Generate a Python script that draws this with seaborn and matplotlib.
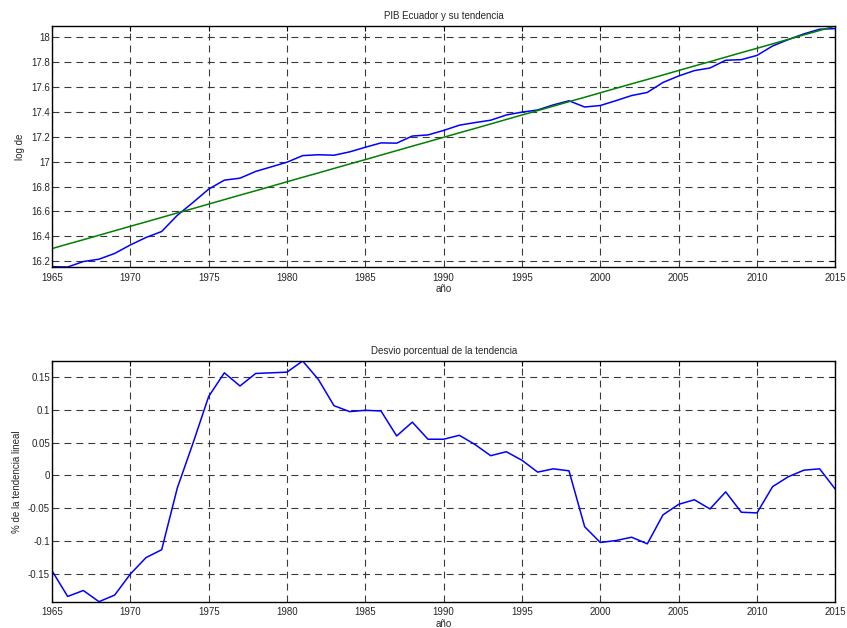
import matplotlib
matplotlib.use("Agg")
import matplotlib.pyplot as plt
from matplotlib.ticker import FuncFormatter
import seaborn as sns
import pandas as pd

# Años de la serie
anios = list(range(1965, 2016))

# Logaritmo del PIB de Ecuador
log_pib = [
    16.157, 16.154, 16.198, 16.217, 16.263, 16.331, 16.391, 16.439, 16.569, 16.672,
    16.779, 16.851, 16.867, 16.921, 16.958, 16.995, 17.048, 17.055, 17.051, 17.078,
    17.115, 17.150, 17.148, 17.205, 17.214, 17.250, 17.292, 17.313, 17.332, 17.374,
    17.397, 17.414, 17.455, 17.488, 17.438, 17.450, 17.489, 17.530, 17.555, 17.635,
    17.687, 17.730, 17.751, 17.813, 17.818, 17.852, 17.928, 17.979, 18.025, 18.062,
    18.067,
]

# Tendencia lineal del log del PIB
tendencia = [
    16.302, 16.338, 16.373, 16.409, 16.445, 16.481, 16.516, 16.552, 16.588, 16.623,
    16.659, 16.695, 16.731, 16.766, 16.802, 16.838, 16.874, 16.909, 16.945, 16.981,
    17.016, 17.052, 17.088, 17.124, 17.159, 17.195, 17.231, 17.266, 17.302, 17.338,
    17.374, 17.409, 17.445, 17.481, 17.516, 17.552, 17.588, 17.624, 17.659, 17.695,
    17.731, 17.767, 17.802, 17.838, 17.874, 17.909, 17.945, 17.981, 18.017, 18.052,
    18.088,
]

# Desvío respecto de la tendencia
desvio = [
    -0.145, -0.184, -0.175, -0.192, -0.182, -0.150, -0.125, -0.113, -0.019, 0.049,
    0.120, 0.156, 0.136, 0.155, 0.156, 0.157, 0.174, 0.146, 0.106, 0.097,
    0.099, 0.098, 0.060, 0.081, 0.055, 0.055, 0.061, 0.047, 0.030, 0.036,
    0.023, 0.005, 0.010, 0.007, -0.078, -0.102, -0.099, -0.094, -0.104, -0.060,
    -0.044, -0.037, -0.051, -0.025, -0.056, -0.057, -0.017, -0.002, 0.008, 0.010,
    -0.021,
]

xticks = list(range(1965, 2016, 5))
yticks_top = [16.2, 16.4, 16.6, 16.8, 17.0, 17.2, 17.4, 17.6, 17.8, 18.0]
yticks_bot = [-0.15, -0.1, -0.05, 0.0, 0.05, 0.1, 0.15]

df = pd.DataFrame({"anio": anios, "log_pib": log_pib,
                   "tendencia": tendencia, "desvio": desvio})

sns.set_style("white")
plt.rcParams["font.family"] = ["Liberation Sans", "DejaVu Sans"]
plt.rcParams["axes.unicode_minus"] = False
plt.rcParams["lines.scale_dashes"] = False

fig = plt.figure(figsize=(8.47, 6.28), dpi=100)
ax1 = fig.add_axes([0.0614, 0.5748, 0.9248, 0.3838])
ax2 = fig.add_axes([0.0614, 0.0419, 0.9248, 0.3833])

fmt = FuncFormatter(lambda v, p: f"{v:g}")

def estilo(ax, yticks, ylim, titulo, ylabel):
    ax.set_xlim(1965, 2015)
    ax.set_ylim(*ylim)
    ax.set_xticks(xticks)
    ax.set_yticks(yticks)
    ax.yaxis.set_major_formatter(fmt)
    ax.grid(True, color="#3a3a3a", linewidth=0.8, linestyle=(0, (5.0, 3.6)))
    ax.set_axisbelow(True)
    ax.tick_params(direction="in", length=3.6, width=0.8, labelsize=7,
                   top=True, right=True, color="black")
    ax.tick_params(axis="y", pad=1.5)
    ax.tick_params(axis="x", pad=4)
    for s in ax.spines.values():
        s.set_visible(True)
        s.set_color("black")
        s.set_linewidth(1.0)
    ax.set_title(titulo, fontsize=7, pad=5)
    ax.set_xlabel("año", fontsize=7, labelpad=1)
    ax.set_ylabel(ylabel, fontsize=7, labelpad=4)

sns.lineplot(data=df, x="anio", y="log_pib", ax=ax1, color="#0000ff", linewidth=1.1)
sns.lineplot(data=df, x="anio", y="tendencia", ax=ax1, color="#008000", linewidth=1.1)
estilo(ax1, yticks_top, (min(log_pib), max(tendencia)),
       "PIB Ecuador y su tendencia", "log de")

sns.lineplot(data=df, x="anio", y="desvio", ax=ax2, color="#0000ff", linewidth=1.1)
estilo(ax2, yticks_bot, (min(desvio), max(desvio)),
       "Desvio porcentual de la tendencia", "% de la tendencia lineal")

fig.savefig("out.png", dpi=100, facecolor="white")
